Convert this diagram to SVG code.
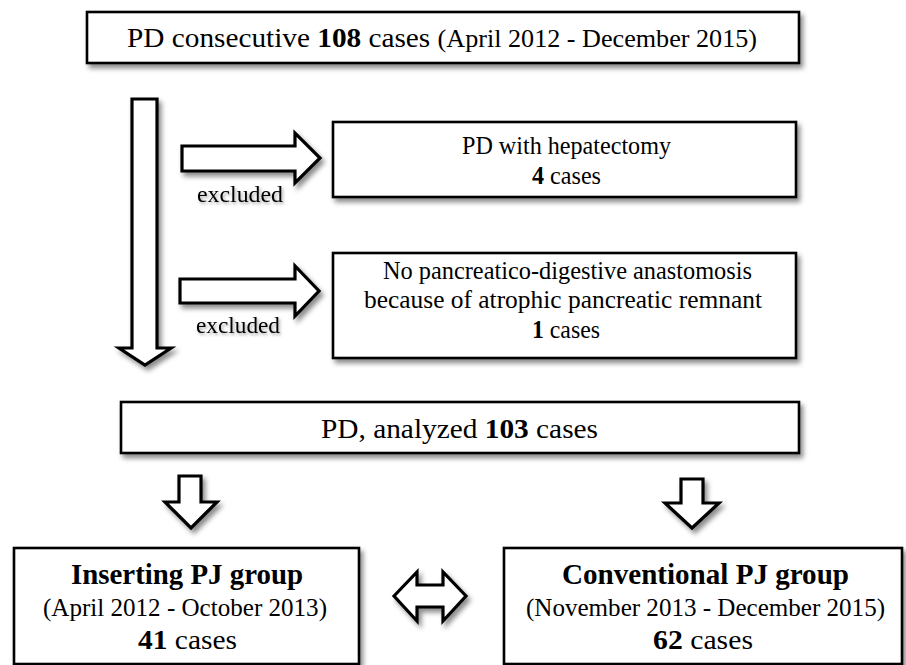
<svg xmlns="http://www.w3.org/2000/svg" width="906" height="665" viewBox="0 0 906 665">
<defs>
<filter id="sh" x="-10%" y="-20%" width="130%" height="150%">
<feDropShadow dx="3" dy="4" stdDeviation="2.5" flood-color="#000" flood-opacity="0.45"/>
</filter>
<filter id="tsh" x="-10%" y="-30%" width="130%" height="170%">
<feDropShadow dx="1.5" dy="2" stdDeviation="1.5" flood-color="#000" flood-opacity="0.35"/>
</filter>
</defs>
<style>
.box{fill:#fff;stroke:#000;stroke-width:2.6}
.arr{fill:#fff;stroke:#000;stroke-width:3.2;stroke-linejoin:miter}
text{font-family:"Liberation Serif","Times New Roman",serif;font-weight:normal;fill:#000}
.b{font-weight:bold}
</style>
<rect width="906" height="665" fill="#fff"/>
<g id="connectors">
<polygon class="arr" filter="url(#sh)" points="132,99 157,99 157,348 171,348 145,365 119,348 132,348"/>
<polygon class="arr" filter="url(#sh)" points="182,146 295,146 295,133 320,158 295,183 295,171 182,171"/>
<polygon class="arr" filter="url(#sh)" points="180,279 295,279 295,266 319,291 295,316 295,303 180,303"/>
<polygon class="arr" filter="url(#sh)" points="179,476 201,476 201,502 217,502 191,528 165,502 179,502"/>
<polygon class="arr" filter="url(#sh)" points="681,479 703,479 703,503 719,503 692,528 665,503 681,503"/>
<polygon class="arr" filter="url(#sh)" points="394,596 417,572 417,585 443,585 443,572 466,596 443,621 443,607 417,607 417,621"/>
<text x="197" y="202" font-size="24" textLength="86" lengthAdjust="spacingAndGlyphs" filter="url(#tsh)">excluded</text>
<text x="196" y="333" font-size="24" textLength="84" lengthAdjust="spacingAndGlyphs" filter="url(#tsh)">excluded</text>
</g>
<g id="n-total">
<rect class="box" filter="url(#sh)" x="87" y="12" width="712" height="51"/>
<text x="127" y="47" font-size="28" textLength="630" lengthAdjust="spacingAndGlyphs">PD consecutive <tspan class="b">108</tspan> cases  <tspan font-size="25">(April  2012 - December  2015)</tspan></text>
</g>
<g id="n-hepatectomy">
<rect class="box" filter="url(#sh)" x="333" y="122" width="463" height="75"/>
<text x="462" y="154" font-size="25" textLength="209" lengthAdjust="spacingAndGlyphs">PD with  hepatectomy</text>
<text x="532" y="184" font-size="25" textLength="69" lengthAdjust="spacingAndGlyphs"><tspan class="b">4</tspan> cases</text>
</g>
<g id="n-noanastomosis">
<rect class="box" filter="url(#sh)" x="333" y="253" width="463" height="105"/>
<text x="383" y="279" font-size="25" textLength="369" lengthAdjust="spacingAndGlyphs">No pancreatico-digestive  anastomosis</text>
<text x="364" y="308" font-size="25" textLength="398" lengthAdjust="spacingAndGlyphs">because of atrophic  pancreatic  remnant</text>
<text x="532" y="338" font-size="25" textLength="68" lengthAdjust="spacingAndGlyphs"><tspan class="b">1</tspan> cases</text>
</g>
<g id="n-analyzed">
<rect class="box" filter="url(#sh)" x="121" y="402" width="678" height="51"/>
<text x="321" y="438" font-size="27" textLength="277" lengthAdjust="spacingAndGlyphs">PD, analyzed  <tspan class="b">103</tspan> cases</text>
</g>
<g id="n-inserting">
<rect class="box" filter="url(#sh)" x="14" y="548" width="345" height="116"/>
<text x="71" y="584" class="b" font-size="29" textLength="232" lengthAdjust="spacingAndGlyphs">Inserting PJ group</text>
<text x="43" y="616" font-size="26" textLength="284" lengthAdjust="spacingAndGlyphs">(April  2012 - October 2013)</text>
<text x="138" y="649" font-size="28" textLength="99" lengthAdjust="spacingAndGlyphs"><tspan class="b">41</tspan> cases</text>
</g>
<g id="n-conventional">
<rect class="box" filter="url(#sh)" x="504" y="548" width="398" height="116"/>
<text x="562" y="584" class="b" font-size="29" textLength="287" lengthAdjust="spacingAndGlyphs">Conventional PJ group</text>
<text x="526" y="616" font-size="26" textLength="359" lengthAdjust="spacingAndGlyphs">(November  2013 - December  2015)</text>
<text x="653" y="649" font-size="28" textLength="100" lengthAdjust="spacingAndGlyphs"><tspan class="b">62</tspan> cases</text>
</g>
</svg>
